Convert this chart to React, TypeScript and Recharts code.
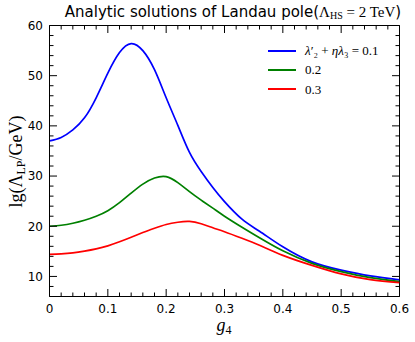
import React from 'react';
import { LineChart, Line, XAxis, YAxis, ReferenceLine, Legend } from 'recharts';

// g4 sample points
const gValues = [0, 0.02, 0.04, 0.06, 0.08, 0.1, 0.12, 0.14, 0.16, 0.18, 0.2, 0.22, 0.24, 0.26, 0.28, 0.3, 0.33, 0.36, 0.4, 0.45, 0.5, 0.55, 0.6];
// lambda2' + eta*lambda3 = 0.1
const blueValues = [37.0, 37.7, 39.2, 41.6, 45.6, 50.5, 54.6, 56.4, 55.0, 51.2, 45.6, 40.1, 34.7, 30.9, 27.7, 24.9, 21.4, 19.0, 15.9, 12.9, 11.25, 10.1, 9.3];
// 0.2
const greenValues = [20.0, 20.2, 20.6, 21.2, 22.0, 23.1, 24.7, 26.6, 28.4, 29.6, 29.9, 28.7, 26.9, 25.2, 23.6, 22.0, 19.8, 17.7, 15.1, 12.6, 10.95, 9.75, 8.95];
// 0.3
const redValues = [14.4, 14.5, 14.7, 15.05, 15.5, 16.1, 16.9, 17.8, 18.75, 19.6, 20.35, 20.8, 20.95, 20.5, 19.7, 18.9, 17.6, 16.2, 14.2, 12.2, 10.5, 9.35, 8.75];

const seriesLabels = ['0.1', '0.2', '0.3'];
const seriesColors = ['#0000ff', '#008000', '#ff0000'];

const xTicks = [0, 0.02, 0.04, 0.06, 0.08, 0.1, 0.12, 0.14, 0.16, 0.18, 0.2, 0.22, 0.24, 0.26, 0.28, 0.3, 0.32, 0.34, 0.36, 0.38, 0.4, 0.42, 0.44, 0.46, 0.48, 0.5, 0.52, 0.54, 0.56, 0.58, 0.6];
const xMajorLabels = ['0', '0.1', '0.2', '0.3', '0.4', '0.5', '0.6'];
const yTicks = [6, 8, 10, 12, 14, 16, 18, 20, 22, 24, 26, 28, 30, 32, 34, 36, 38, 40, 42, 44, 46, 48, 50, 52, 54, 56, 58, 60];

const chartData = gValues.map((g, i) => ({
  g,
  s1: blueValues[i],
  s2: greenValues[i],
  s3: redValues[i],
}));

const W = 415;
const H = 342;
const LEFT = 49.5;
const RIGHT = 399.5;
const TOP = 25.5;
const BOTTOM = 296.5;
const MAJOR = 7.5;
const MINOR = 4;

const isMajorX = (v: number) => Math.abs(v * 10 - Math.round(v * 10)) < 1e-6;
const isMajorY = (v: number) => v % 10 === 0;

const XTick = (props: any) => {
  const { x, y, payload } = props;
  const v = payload.value as number;
  const major = isMajorX(v);
  const len = major ? MAJOR : MINOR;
  return (
    <g>
      <line x1={x} x2={x} y1={y} y2={y - len} stroke="#000" strokeWidth={1} />
      <line x1={x} x2={x} y1={TOP} y2={TOP + len} stroke="#000" strokeWidth={1} />
      {major && (
        <text x={x} y={y + 16} textAnchor="middle" fontSize={12} fontFamily="DejaVu Sans" fill="#000">
          {xMajorLabels[Math.round(v * 10)]}
        </text>
      )}
    </g>
  );
};

const YTick = (props: any) => {
  const { x, y, payload } = props;
  const v = payload.value as number;
  const major = isMajorY(v);
  const len = major ? MAJOR : MINOR;
  return (
    <g>
      <line x1={x} x2={x + len} y1={y} y2={y} stroke="#000" strokeWidth={1} />
      <line x1={RIGHT} x2={RIGHT - len} y1={y} y2={y} stroke="#000" strokeWidth={1} />
      {major && (
        <text x={x - 6.5} y={y + 4.3} textAnchor="end" fontSize={12} fontFamily="DejaVu Sans" fill="#000">
          {String(v)}
        </text>
      )}
    </g>
  );
};

const serif = "'Liberation Serif', 'DejaVu Serif', serif";

const renderLegend = (props: any) => {
  const payload = props.payload || [];
  return (
    <div style={{ fontFamily: serif, fontSize: 13, color: '#000', lineHeight: 1 }}>
      {payload.map((entry: any, i: number) => (
        <div key={i} style={{ display: 'flex', alignItems: 'center', height: 19.3 }}>
          <svg width={28} height={6} style={{ marginRight: 9, flex: 'none' }}>
            <line x1={0} x2={28} y1={3} y2={3} stroke={entry.color} strokeWidth={2} />
          </svg>
          <span style={{ whiteSpace: 'nowrap' }}>
            {entry.dataKey === 's1' ? (
              <>
                <i>λ</i>′₂ + <i>ηλ</i>₃ = {entry.value}
              </>
            ) : (
              entry.value
            )}
          </span>
        </div>
      ))}
    </div>
  );
};

export default function App() {
  return (
    <div style={{ position: 'absolute', left: 0, top: 0, width: W, height: H, background: '#fff' }}>
      <LineChart
        width={W}
        height={H}
        data={chartData}
        margin={{ top: TOP, right: W - RIGHT, bottom: 0, left: 0 }}
      >
        <XAxis
          dataKey="g"
          type="number"
          domain={[0, 0.6]}
          allowDataOverflow
          ticks={xTicks}
          interval={0}
          tickSize={0}
          tickMargin={0}
          tickLine={false}
          tick={<XTick />}
          axisLine={{ stroke: '#000', strokeWidth: 1 }}
          height={H - BOTTOM}
        />
        <YAxis
          type="number"
          domain={[6, 60]}
          allowDataOverflow
          ticks={yTicks}
          interval={0}
          tickSize={0}
          tickMargin={0}
          tickLine={false}
          tick={<YTick />}
          axisLine={{ stroke: '#000', strokeWidth: 1 }}
          width={LEFT}
        />
        <ReferenceLine y={60} stroke="#000" strokeWidth={1} />
        <ReferenceLine x={0.6} stroke="#000" strokeWidth={1} />
        <Line dataKey="s1" name={seriesLabels[0]} type="natural" stroke={seriesColors[0]} strokeWidth={1.7} dot={false} isAnimationActive={false} />
        <Line dataKey="s2" name={seriesLabels[1]} type="natural" stroke={seriesColors[1]} strokeWidth={1.7} dot={false} isAnimationActive={false} />
        <Line dataKey="s3" name={seriesLabels[2]} type="natural" stroke={seriesColors[2]} strokeWidth={1.7} dot={false} isAnimationActive={false} />
        <Legend
          layout="vertical"
          align="center"
          verticalAlign="middle"
          content={renderLegend}
          wrapperStyle={{ position: 'absolute', left: 268, top: 41, width: 145, height: 60 }}
        />
      </LineChart>
      <svg width={W} height={H} style={{ position: 'absolute', left: 0, top: 0, pointerEvents: 'none' }}>
        <text x={233} y={17} textAnchor="middle" fontSize={15} fontFamily="DejaVu Sans" fill="#000">
          Analytic solutions of Landau pole(
          <tspan fontFamily={serif} fontSize={15}>Λ</tspan>
          <tspan fontFamily={serif} fontSize={10} dy={2}>HS</tspan>
          <tspan fontFamily={serif} fontSize={15} dy={-2}> = 2 TeV</tspan>)
        </text>
        <text
          x={22}
          y={161.5}
          transform="rotate(-90 22 161.5)"
          textAnchor="middle"
          fontSize={18}
          fontFamily={serif}
          fill="#000"
        >
          lg(Λ<tspan fontSize={12} dy={3}>LP</tspan>
          <tspan dy={-3}>/GeV)</tspan>
        </text>
        <text x={224} y={331} textAnchor="middle" fontSize={18} fontFamily={serif} fill="#000">
          <tspan fontStyle="italic">g</tspan>
          <tspan fontSize={12} dy={3}>4</tspan>
        </text>
      </svg>
    </div>
  );
}
